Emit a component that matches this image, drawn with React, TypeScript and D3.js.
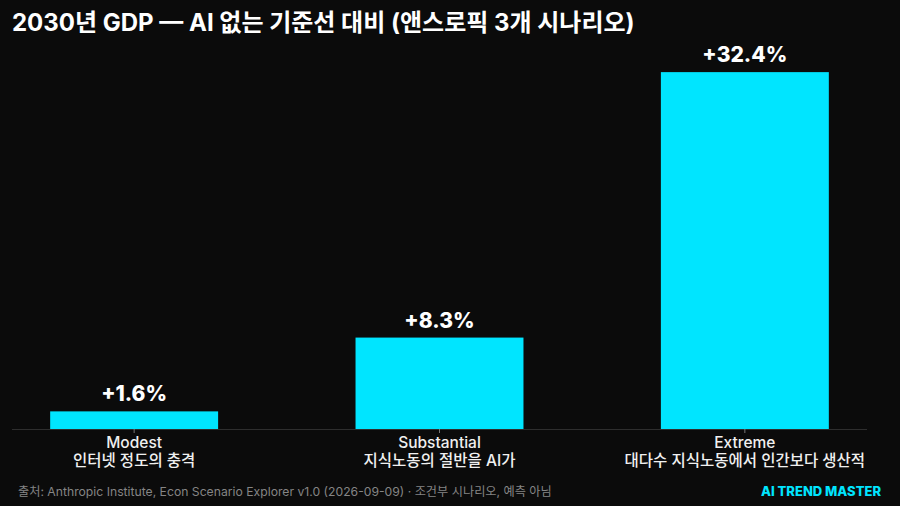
import { useEffect, useRef } from 'react'
import * as d3 from 'd3'

const scenarios = ['Modest', 'Substantial', 'Extreme']
const descriptions = ['인터넷 정도의 충격', '지식노동의 절반을 AI가', '대다수 지식노동에서 인간보다 생산적']
const gdpGain = [1.6, 8.3, 32.4]

const W = 900
const H = 506
const FONT = 'Inter, "Noto Sans CJK KR", sans-serif'

export default function App() {
  const ref = useRef<SVGSVGElement>(null)

  useEffect(() => {
    if (!ref.current) return
    const svg = d3.select(ref.current)
    svg.selectAll('*').remove()

    svg.append('rect').attr('width', W).attr('height', H).attr('fill', '#0b0b0b')

    svg.append('text')
      .attr('x', 12)
      .attr('y', 31)
      .style('font-family', FONT)
      .style('font-size', '24px')
      .style('font-weight', 700)
      .style('fill', '#ffffff')
      .text('2030년 GDP — AI 없는 기준선 대비 (앤스로픽 3개 시나리오)')

    const baseY = 429
    const x = d3.scaleBand()
      .domain(scenarios)
      .range([12, 867])
      .paddingInner(0.45)
      .paddingOuter(0.125)

    const y = d3.scaleLinear()
      .domain([0, d3.max(gdpGain)! * 1.062])
      .range([baseY, 50])

    const axis = svg.append('g')
      .attr('transform', `translate(0, ${baseY})`)
      .call(d3.axisBottom(x).tickSize(4).tickFormat(() => ''))
    axis.select('.domain').attr('stroke', '#2e2e2e').attr('d', 'M12,0.5H867')
    axis.selectAll('.tick line').attr('stroke', '#777')

    svg.selectAll('.bar')
      .data(gdpGain)
      .enter()
      .append('rect')
      .attr('class', 'bar')
      .attr('x', (_, i) => x(scenarios[i])!)
      .attr('y', (d) => y(d))
      .attr('width', x.bandwidth())
      .attr('height', (d) => baseY - y(d))
      .attr('fill', '#00e5ff')

    svg.selectAll('.val')
      .data(gdpGain)
      .enter()
      .append('text')
      .attr('x', (_, i) => x(scenarios[i])! + x.bandwidth() / 2)
      .attr('y', (d) => y(d) - 10)
      .attr('text-anchor', 'middle')
      .style('font-family', FONT)
      .style('font-size', '21px')
      .style('font-weight', 800)
      .style('fill', '#ffffff')
      .text((d) => `+${d.toFixed(1)}%`)

    scenarios.forEach((s, i) => {
      const cx = x(s)! + x.bandwidth() / 2
      const t = svg.append('text')
        .attr('text-anchor', 'middle')
        .style('font-family', FONT)
        .style('font-size', '15.5px')
        .style('font-weight', 500)
        .style('fill', '#f0f0f0')
      t.append('tspan').attr('x', cx).attr('y', 448).text(s)
      t.append('tspan').attr('x', cx).attr('y', 466).text(descriptions[i])
    })

    svg.append('text')
      .attr('x', 18)
      .attr('y', 496)
      .style('font-family', FONT)
      .style('font-size', '12.2px')
      .style('fill', '#858585')
      .text('출처: Anthropic Institute, Econ Scenario Explorer v1.0 (2026-09-09) · 조건부 시나리오, 예측 아님')

    svg.append('text')
      .attr('x', 881)
      .attr('y', 496)
      .attr('text-anchor', 'end')
      .style('font-family', FONT)
      .style('font-size', '13px')
      .style('font-weight', 800)
      .style('fill', '#00e5ff')
      .text('AI TREND MASTER')
  }, [])

  return (
    <svg ref={ref} width={W} height={H} style={{ position: 'absolute', left: 0, top: 0 }} />
  )
}
